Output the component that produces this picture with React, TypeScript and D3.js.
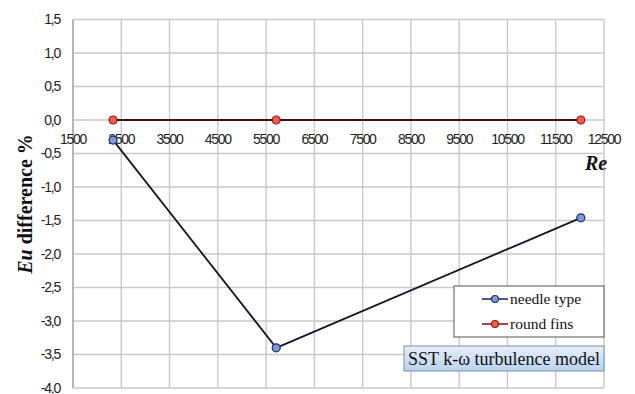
import React from "react";
import * as d3 from "d3";

const reValues = [2330, 5710, 12020];
const needleType = [-0.3, -3.4, -1.46];
const roundFins = [0, 0, 0];
const xTicks = [1500, 2500, 3500, 4500, 5500, 6500, 7500, 8500, 9500, 10500, 11500, 12500];
const yTicks = [1.5, 1.0, 0.5, 0.0, -0.5, -1.0, -1.5, -2.0, -2.5, -3.0, -3.5, -4.0];
const seriesNames = ["needle type", "round fins"];

const W = 635, H = 394;
const L = 73, R = 604, T = 19.5, B = 388;

export default function App() {
  const x = d3.scaleLinear().domain([1500, 12500]).range([L, R]);
  const y = d3.scaleLinear().domain([-4, 1.5]).range([B, T]);
  const line = d3.line<number>().x((_, i) => x(reValues[i])).y((d) => y(d));
  const fmt = (v: number) => v.toFixed(1).replace(".", ",");
  const series = [
    { name: seriesNames[0], data: needleType, line: "#14142e", fill: "#7c9bd6", stroke: "#1d2d6b" },
    { name: seriesNames[1], data: roundFins, line: "#4a0c0c", fill: "#f25a4c", stroke: "#8e1a16" },
  ];
  return (
    <svg width={W} height={H} style={{ position: "absolute", left: 0, top: 0, background: "#fff" }}>
      <defs>
        <linearGradient id="tb" x1="0" y1="0" x2="0" y2="1">
          <stop offset="0" stopColor="#e6eff9" />
          <stop offset="1" stopColor="#b9d3ee" />
        </linearGradient>
      </defs>
      <rect width={W} height={H} fill="#fff" />
      {xTicks.map((t) => (
        <line key={"gx" + t} x1={x(t)} x2={x(t)} y1={T} y2={B} stroke="#c9c9c9" strokeWidth={1.4} />
      ))}
      {yTicks.map((t) => (
        <line key={"gy" + t} x1={L} x2={R} y1={y(t)} y2={y(t)} stroke="#c9c9c9" strokeWidth={1.4} />
      ))}
      <line x1={L} x2={L} y1={T} y2={B} stroke="#a8a8a8" strokeWidth={1.4} />
      {yTicks.map((t) => (
        <text key={"ly" + t} x={60} y={y(t)} dy="0.35em" textAnchor="end" fontFamily="Liberation Sans, Arial" fontSize={14} fill="#222" letterSpacing={-1.2}>
          {fmt(t)}
        </text>
      ))}
      {xTicks.map((t) => (
        <text key={"lx" + t} x={x(t)} y={y(0) + 19} dy="0.35em" textAnchor="middle" fontFamily="Liberation Sans, Arial" fontSize={14} fill="#222" letterSpacing={-1.3}>
          {t}
        </text>
      ))}
      {series.slice().reverse().map((s) => (
        <g key={s.name}>
          <path d={line(s.data) || ""} fill="none" stroke={s.line} strokeWidth={1.8} />
          {s.data.map((v, i) => (
            <circle key={i} cx={x(reValues[i])} cy={y(v)} r={4} fill={s.fill} stroke={s.stroke} strokeWidth={1.2} />
          ))}
        </g>
      ))}
      <text x={596} y={163} dy="0.35em" textAnchor="middle" fontFamily="Liberation Serif, Times New Roman" fontSize={20} fontWeight="bold" fontStyle="italic" fill="#111">
        Re
      </text>
      <text transform={`translate(32,204) rotate(-90)`} textAnchor="middle" fontFamily="Liberation Serif, Times New Roman" fontSize={20} fontWeight="bold" fill="#111">
        <tspan fontStyle="italic">Eu</tspan> difference %
      </text>
      <rect x={454} y={286} width={150} height={51} fill="#fff" stroke="#555" strokeWidth={1} />
      {series.map((s, i) => {
        const cy = 299 + i * 25;
        return (
          <g key={"lg" + s.name}>
            <line x1={482} x2={508} y1={cy} y2={cy} stroke={s.stroke} strokeWidth={1.6} />
            <circle cx={495} cy={cy} r={3.5} fill={s.fill} stroke={s.stroke} strokeWidth={1.1} />
            <text x={510} y={cy} dy="0.35em" fontFamily="Liberation Serif, Times New Roman" fontSize={15.5} fill="#111">
              {s.name}
            </text>
          </g>
        );
      })}
      <rect x={404} y={346} width={200} height={25} fill="url(#tb)" stroke="#7a8ea8" strokeWidth={1} />
      <text x={504} y={358.5} dy="0.35em" textAnchor="middle" fontFamily="Liberation Serif, Times New Roman" fontSize={18} fill="#111">
        SST k-ω turbulence model
      </text>
    </svg>
  );
}
